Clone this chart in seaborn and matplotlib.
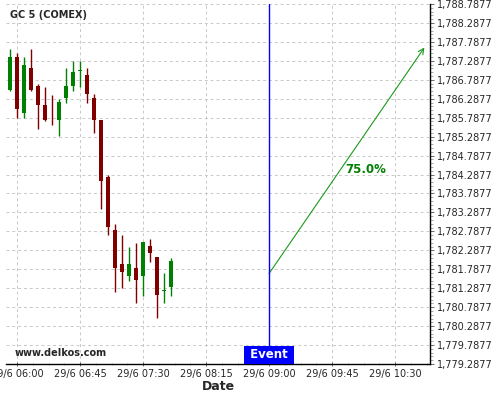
import pandas as pd
import matplotlib
matplotlib.use('Agg')
import matplotlib.pyplot as plt
import matplotlib.dates as mdates
from matplotlib.ticker import FixedLocator, FuncFormatter, AutoMinorLocator
import seaborn as sns


# 5 minute candles
times = ['05:55', '06:00', '06:05', '06:10', '06:15', '06:20', '06:25', '06:30',
         '06:35', '06:40', '06:45', '06:50', '06:55', '07:00', '07:05', '07:10',
         '07:15', '07:20', '07:25', '07:30', '07:35', '07:40', '07:45', '07:50']
opens = [1786.506, 1787.402, 1785.907, 1787.112, 1786.611, 1786.110, 1785.741, 1785.722,
         1786.303, 1786.619, 1787.024, 1786.901, 1786.303, 1785.714, 1784.212, 1782.814,
         1781.918, 1781.610, 1781.821, 1781.610, 1782.393, 1782.103, 1781.225, 1781.320]
highs = [1787.605, 1787.500, 1787.383, 1787.605, 1786.682, 1786.603, 1786.392, 1786.276,
         1787.104, 1787.289, 1787.289, 1787.112, 1786.408, 1785.730, 1784.283, 1782.991,
         1782.701, 1782.385, 1782.490, 1782.510, 1782.596, 1782.110, 1781.699, 1782.095]
lows = [1786.487, 1785.786, 1785.786, 1786.493, 1785.496, 1785.696, 1785.601, 1785.293,
        1786.181, 1786.487, 1786.603, 1786.181, 1785.380, 1783.376, 1782.701, 1781.198,
        1781.304, 1781.489, 1780.908, 1781.093, 1781.989, 1780.513, 1780.908, 1781.093]
closes = [1787.402, 1786.005, 1787.191, 1786.506, 1786.118, 1785.722, 1785.741, 1786.189,
          1786.611, 1787.006, 1787.024, 1786.408, 1785.714, 1784.114, 1782.901, 1781.821,
          1781.715, 1781.918, 1781.504, 1782.507, 1782.216, 1781.109, 1781.225, 1781.997]
# candles drawn in green even though open == close
doji_up = ['06:45', '07:45']

event_time = '09:00'
arrow_start = ('09:00', 1781.673)
arrow_end = ('10:51', 1787.639)
pct_label = '75.0%'
pct_pos = ('10:09', 1784.42)

xtick_times = ['06:00', '06:45', '07:30', '08:15', '09:00', '09:45', '10:30']
ytick_vals = [1779.2877, 1779.7877, 1780.2877, 1780.7877, 1781.2877, 1781.7877,
              1782.2877, 1782.7877, 1783.2877, 1783.7877, 1784.2877, 1784.7877,
              1785.2877, 1785.7877, 1786.2877, 1786.7877, 1787.2877, 1787.7877,
              1788.2877, 1788.7877]

day = '2021-06-29 '


def ts(t):
    return pd.Timestamp(day + t)


df = pd.DataFrame({'time': [ts(t) for t in times], 'open': opens, 'high': highs,
                   'low': lows, 'close': closes})
df['up'] = (df['close'] > df['open']) | df['time'].isin([ts(t) for t in doji_up])
df['color'] = df['up'].map({True: '#008000', False: '#800000'})
df['bottom'] = df[['open', 'close']].min(axis=1)
df['height'] = (df['close'] - df['open']).abs().clip(lower=0.025)

sns.set_style('whitegrid', {'grid.linestyle': '--', 'grid.color': '#cccccc'})
plt.rcParams['font.family'] = ['DejaVu Sans']

fig = plt.figure(figsize=(5, 4), dpi=100)
ax = fig.add_axes([0.012, 0.09, 0.848, 0.9])

# wicks then bodies
ax.vlines(df['time'], df['low'], df['high'], colors=df['color'], lw=1.0, zorder=2)
ax.bar(df['time'], df['height'], bottom=df['bottom'], width=3.4 / 1440,
       color=df['color'], edgecolor='none', zorder=3)

ax.axvline(ts(event_time), color='#0000ff', lw=1, zorder=4)
ax.annotate('', xy=(ts(arrow_end[0]), arrow_end[1]),
            xytext=(ts(arrow_start[0]), arrow_start[1]),
            arrowprops=dict(arrowstyle='->', color='#1a9a1a', lw=0.8,
                            shrinkA=0, shrinkB=0))
ax.text(ts(pct_pos[0]), pct_pos[1], pct_label, color='#008000', fontsize=8.5,
        fontweight='bold', ha='center', va='center')

ax.text(mdates.date2num(ts(event_time)), 0.007, ' Event ', color='white', fontsize=8.5,
        fontweight='bold', ha='center', va='bottom',
        transform=ax.get_xaxis_transform(),
        bbox=dict(boxstyle='square,pad=0.2', facecolor='#0000ff', edgecolor='none'),
        zorder=5)
ax.text(0.021, 0.03, 'www.delkos.com', fontsize=7, fontweight='bold',
        ha='left', va='center', transform=ax.transAxes)
ax.text(0.01, 0.969, 'GC 5 (COMEX)', fontsize=7, fontweight='bold',
        ha='left', va='center', transform=ax.transAxes)

ax.set_xlim(pd.Timestamp(day + '05:52:08'), pd.Timestamp(day + '10:55'))
ax.set_ylim(ytick_vals[0], ytick_vals[-1])

ax.xaxis.set_major_locator(FixedLocator([mdates.date2num(ts(t)) for t in xtick_times]))
ax.xaxis.set_minor_locator(AutoMinorLocator(4))


def fmt_date(x, pos):
    d = mdates.num2date(x)
    return f'{d.day}/{d.month} {d:%H:%M}'


ax.xaxis.set_major_formatter(FuncFormatter(fmt_date))
ax.yaxis.set_major_locator(FixedLocator(ytick_vals))
ax.yaxis.set_minor_locator(AutoMinorLocator(5))
ax.yaxis.set_major_formatter(FuncFormatter(lambda v, p: f'{v:,.4f}'))
ax.yaxis.tick_right()

ax.tick_params(axis='both', which='major', labelsize=7, length=3, width=0.6,
               color='#555555', direction='inout', pad=2)
ax.tick_params(axis='both', which='minor', length=2, width=0.5, color='#888888',
               direction='inout')
ax.tick_params(axis='y', which='both', direction='out', right=True, left=False)
ax.tick_params(axis='x', which='both', bottom=True)

for side in ['left', 'top']:
    ax.spines[side].set_visible(False)
for side in ['right', 'bottom']:
    ax.spines[side].set_visible(True)
    ax.spines[side].set_color('black')
    ax.spines[side].set_linewidth(1)

ax.grid(True, which='major', linestyle=(0, (3, 3)), color='#c8c8c8', lw=0.7)
ax.set_axisbelow(True)
ax.set_xlabel('Date', fontsize=9, fontweight='bold', labelpad=1)
ax.set_ylabel('')

fig.savefig('out.png', dpi=100)
